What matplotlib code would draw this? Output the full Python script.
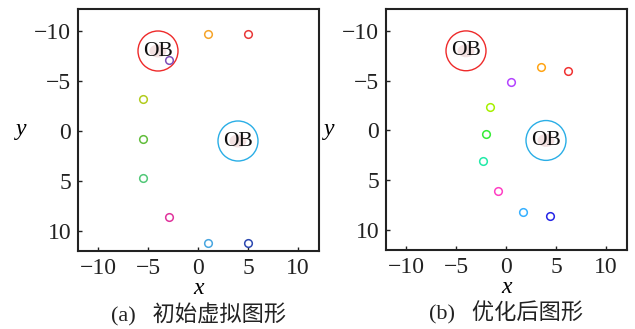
import numpy as np
import matplotlib.pyplot as plt
from matplotlib.patches import Circle, Ellipse

plt.rcParams['font.family'] = ['Liberation Serif', 'Noto Sans CJK SC']
plt.rcParams['axes.unicode_minus'] = True

# obstacles (centre x, centre y, radius)
ob_x = [-4.0, 4.0]
ob_y = [-8.0, 1.0]
ob_r = [2.0, 2.0]
ob_colors = ['#ee2a2a', '#2aaee6']

# (a) initial virtual formation
init_x = [1.0, 5.0, -2.9, -5.5, -5.5, -5.5, -2.9, 1.0, 5.0]
init_y = [-9.7, -9.7, -7.1, -3.2, 0.75, 4.7, 8.6, 11.2, 11.2]
init_colors = ['#f5a42a', '#e83838', '#7e4db8', '#b2cc1e', '#62bd3c',
               '#52c878', '#e0339c', '#48a6e0', '#2c48b0']

# (b) optimised formation
opt_x = [3.5, 6.2, 0.5, -1.6, -2.0, -2.3, -0.8, 1.7, 4.4]
opt_y = [-6.35, -6.0, -4.9, -2.4, 0.35, 3.1, 6.05, 8.2, 8.55]
opt_colors = ['#ffa414', '#f03232', '#b444ff', '#a6f000', '#36ec36',
              '#22eaa8', '#ff3fc4', '#36b0ff', '#2424e6']

ticks = [-10, -5, 0, 5, 10]
captions = ['(a)   初始虚拟图形', '(b)   优化后图形']


def draw_panel(ax, xs, ys, colors, caption):
    for cx, cy, r, c in zip(ob_x, ob_y, ob_r, ob_colors):
        ax.add_patch(Circle((cx, cy), r, fill=False, edgecolor=c, linewidth=1.0))
        ax.add_patch(Ellipse((cx, cy), 1.7, 1.3, facecolor='#f3e2e2',
                             edgecolor='none'))
        ax.text(cx, cy, 'OB', ha='center', va='center', fontsize=15.5,
                family='Liberation Serif', color='#111111')
    for x, y, c in zip(xs, ys, colors):
        ax.plot(x, y, 'o', markersize=5.5, markerfacecolor='none',
                markeredgecolor=c, markeredgewidth=1.1)
    ax.set_xlim(-12, 12.1)
    ax.set_ylim(12, -12.2)
    ax.set_xticks(ticks)
    ax.set_yticks(ticks)
    ax.tick_params(direction='in', length=3, width=1, labelsize=17,
                   colors='#222222', pad=5)
    for s in ax.spines.values():
        s.set_linewidth(1.5)
        s.set_color('#222222')
    ax.set_xlabel('x', fontsize=17, fontstyle='italic', labelpad=-1)
    ax.set_ylabel('y', fontsize=17, fontstyle='italic', rotation=0, labelpad=9,
                  va='center')
    ax.text(0.5, -0.262, caption, transform=ax.transAxes, ha='center',
            va='center', fontsize=16, color='#222222')


fig = plt.figure(figsize=(6.35, 3.29), dpi=100)
ax1 = fig.add_axes([78 / 635, 78 / 329, 241 / 635, 242 / 329])
ax2 = fig.add_axes([386 / 635, 79 / 329, 241 / 635, 241 / 329])

draw_panel(ax1, init_x, init_y, init_colors, captions[0])
draw_panel(ax2, opt_x, opt_y, opt_colors, captions[1])

fig.savefig('out.png', dpi=100)
